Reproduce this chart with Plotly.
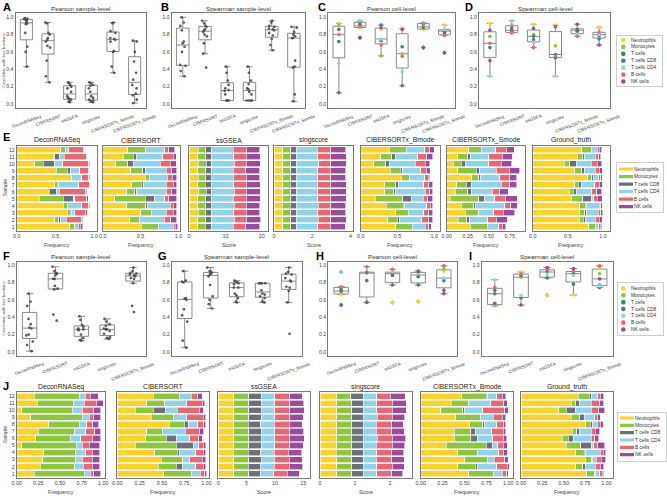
import plotly.graph_objects as go

W, H = 667, 496
FONT = "Liberation Sans, Arial, sans-serif"
FRAME = "#7a7a7a"
BOX_LINE = "#8a8a8a"

# ---------------- categories ----------------
METHODS6 = ["DeconRNASeq", "CIBERSORT", "ssGSEA", "singscore", "CIBERSORTx_Bmode", "CIBERSORTx_Smode"]
METHODS5 = METHODS6[:5]
CELLS7 = ["Neutrophils", "Monocytes", "T cells", "T cells CD8", "T cells CD4", "B cells", "NK cells"]
CELLS6 = ["Neutrophils", "Monocytes", "T cells CD8", "T cells CD4", "B cells", "NK cells"]
SAMPLES = list(range(1, 13))
SAMPLE_LABELS = [str(s) for s in SAMPLES]
Y_TICKS = [0.0, 0.2, 0.4, 0.6, 0.8, 1.0]
CELL_COLORS = {
    "Neutrophils": "#FDD22A", "Monocytes": "#8DC63F", "T cells": "#2E8B74",
    "T cells CD8": "#6B7079", "T cells CD4": "#8FD3EF", "B cells": "#EB6672", "NK cells": "#9B4B9E",
}

# ---------------- A/B: sample-level correlations (dataset 1) ----------------
pearson_sample_A = [
    [0.99, 0.98, 0.98, 0.97, 0.96, 0.94, 0.93, 0.92, 0.82, 0.66, 0.60, 0.43],
    [0.94, 0.93, 0.82, 0.80, 0.76, 0.74, 0.72, 0.67, 0.65, 0.50, 0.32, 0.25],
    [0.25, 0.24, 0.22, 0.20, 0.18, 0.14, 0.09, 0.07, 0.06, 0.05, 0.03, 0.02],
    [0.25, 0.24, 0.22, 0.21, 0.18, 0.14, 0.09, 0.07, 0.05, 0.04, 0.03, 0.02],
    [0.94, 0.93, 0.84, 0.82, 0.76, 0.75, 0.74, 0.72, 0.61, 0.60, 0.43, 0.36],
    [0.73, 0.72, 0.60, 0.49, 0.36, 0.28, 0.22, 0.18, 0.12, 0.10, 0.05, 0.01],
]
spearman_sample_B = [
    [1.00, 0.94, 0.90, 0.85, 0.72, 0.70, 0.66, 0.60, 0.45, 0.44, 0.38, 0.32],
    [0.96, 0.93, 0.90, 0.89, 0.86, 0.85, 0.83, 0.80, 0.78, 0.70, 0.58, 0.42],
    [0.43, 0.36, 0.27, 0.22, 0.18, 0.16, 0.15, 0.11, 0.04, 0.04, 0.04, 0.04],
    [0.43, 0.36, 0.27, 0.23, 0.18, 0.17, 0.14, 0.11, 0.04, 0.04, 0.04, 0.04],
    [0.96, 0.94, 0.90, 0.89, 0.87, 0.86, 0.85, 0.82, 0.79, 0.75, 0.68, 0.62],
    [0.89, 0.88, 0.83, 0.80, 0.78, 0.76, 0.76, 0.50, 0.43, 0.42, 0.11, 0.03],
]
# ---------------- C/D: cell-level correlations (order of CELLS7) ----------------
pearson_cell_C = [
    [0.93, 0.91, 0.72, 0.86, 0.47, 0.80, 0.13],
    [0.88, 0.90, 0.95, 0.92, 0.96, 0.89, 0.765],
    [0.86, 0.555, 0.91, 0.73, 0.75, 0.68, 0.88],
    [0.87, 0.58, 0.66, 0.21, 0.37, 0.55, 0.86],
    [0.86, 0.89, 0.93, 0.88, 0.94, 0.92, 0.65],
    [0.91, 0.85, 0.82, 0.84, 0.86, 0.79, 0.59],
]
spearman_cell_D = [
    [0.93, 0.78, 0.65, 0.50, 0.32, 0.70, 0.85],
    [0.82, 0.91, 0.85, 0.84, 0.96, 0.82, 0.88],
    [0.92, 0.80, 0.78, 0.74, 0.71, 0.65, 0.87],
    [0.91, 0.67, 0.57, 0.53, 0.32, 0.55, 0.89],
    [0.87, 0.85, 0.84, 0.86, 0.80, 0.78, 0.92],
    [0.885, 0.815, 0.75, 0.79, 0.80, 0.83, 0.68],
]
# ---------------- F/G: sample-level correlations (dataset 2) ----------------
pearson_sample_F = [
    [0.67, 0.58, 0.53, 0.38, 0.32, 0.28, 0.27, 0.20, 0.19, 0.12, 0.08, 0.01],
    [0.98, 0.93, 0.91, 0.90, 0.88, 0.84, 0.84, 0.76, 0.73, 0.72, 0.43, 0.36],
    [0.41, 0.37, 0.31, 0.29, 0.27, 0.26, 0.26, 0.25, 0.20, 0.16, 0.14, 0.13],
    [0.38, 0.35, 0.32, 0.30, 0.27, 0.26, 0.26, 0.24, 0.21, 0.17, 0.16, 0.15],
    [0.97, 0.93, 0.91, 0.90, 0.89, 0.88, 0.87, 0.85, 0.84, 0.79, 0.53, 0.46],
]
spearman_sample_G = [
    [0.93, 0.82, 0.81, 0.80, 0.62, 0.61, 0.60, 0.49, 0.42, 0.35, 0.13, 0.05],
    [0.97, 0.93, 0.92, 0.91, 0.90, 0.89, 0.87, 0.77, 0.64, 0.60, 0.55, 0.50],
    [0.82, 0.81, 0.80, 0.79, 0.78, 0.74, 0.74, 0.67, 0.65, 0.62, 0.58, 0.57],
    [0.79, 0.79, 0.79, 0.79, 0.79, 0.71, 0.67, 0.66, 0.64, 0.62, 0.58, 0.57],
    [0.97, 0.92, 0.90, 0.89, 0.85, 0.82, 0.81, 0.75, 0.74, 0.70, 0.57, 0.21],
]
# ---------------- H/I: cell-level correlations (dataset 2) ----------------
pearson_cell_H = [
    [0.66, 0.69, 0.72, 0.70, 0.92, 0.75, 0.54],
    [0.91, 0.92, 0.82, 0.91, 0.57, 0.98, 0.57],
    [0.57, 0.91, 0.90, 0.77, 0.92, 0.95, 0.88],
    [0.58, 0.885, 0.865, 0.77, 0.90, 0.92, 0.93],
    [0.93, 0.95, 0.82, 0.71, 0.85, 0.99, 0.67],
]
spearman_cell_I = [
    [0.53, 0.54, 0.71, 0.67, 0.83, 0.74, 0.56],
    [0.92, 0.86, 0.88, 0.62, 0.65, 0.90, 0.54],
    [0.655, 0.92, 0.85, 0.93, 0.89, 0.95, 0.97],
    [0.655, 0.91, 0.90, 0.78, 0.88, 0.93, 0.96],
    [0.97, 0.90, 0.77, 0.74, 0.76, 0.99, 0.84],
]

# ---------------- E: estimated fractions, samples 1..12 (order of CELLS6) ----------------
E_deconrnaseq = [
    [0.68, 0.06, 0.01, 0.04, 0.03, 0.03], [0.49, 0.05, 0.03, 0.07, 0.20, 0.01],
    [0.66, 0.03, 0.01, 0.05, 0.14, 0.02], [0.60, 0.05, 0.00, 0.19, 0.09, 0.01],
    [0.29, 0.31, 0.13, 0.02, 0.15, 0.02], [0.42, 0.00, 0.09, 0.04, 0.34, 0.01],
    [0.49, 0.03, 0.02, 0.26, 0.14, 0.01], [0.71, 0.00, 0.00, 0.13, 0.09, 0.01],
    [0.51, 0.14, 0.04, 0.12, 0.11, 0.01], [0.23, 0.11, 0.15, 0.10, 0.34, 0.01],
    [0.47, 0.02, 0.06, 0.06, 0.29, 0.01], [0.57, 0.06, 0.00, 0.04, 0.19, 0.01],
]
E_cibersort = [
    [0.51, 0.23, 0.00, 0.19, 0.03, 0.03], [0.36, 0.13, 0.00, 0.32, 0.09, 0.08],
    [0.50, 0.15, 0.00, 0.19, 0.09, 0.05], [0.32, 0.25, 0.02, 0.30, 0.04, 0.05],
    [0.16, 0.40, 0.13, 0.13, 0.05, 0.11], [0.32, 0.10, 0.03, 0.39, 0.07, 0.07],
    [0.38, 0.13, 0.03, 0.30, 0.09, 0.05], [0.56, 0.06, 0.00, 0.23, 0.07, 0.06],
    [0.37, 0.16, 0.04, 0.27, 0.07, 0.07], [0.17, 0.16, 0.08, 0.35, 0.13, 0.08],
    [0.27, 0.13, 0.04, 0.35, 0.14, 0.04], [0.33, 0.24, 0.00, 0.25, 0.05, 0.08],
]
E_ssgsea = [
    [2.4, 2.1, 1.6, 6.0, 3.5, 3.8], [2.4, 2.2, 1.6, 6.2, 3.4, 3.9],
    [2.5, 2.1, 1.6, 6.1, 3.4, 3.7], [2.4, 2.2, 1.5, 6.3, 3.3, 3.8],
    [2.4, 2.2, 1.6, 6.0, 3.5, 3.9], [2.5, 2.2, 1.6, 6.1, 3.4, 3.8],
    [2.4, 2.1, 1.6, 6.2, 3.5, 3.8], [2.5, 2.1, 1.5, 6.1, 3.5, 3.7],
    [2.4, 2.2, 1.6, 6.0, 3.4, 3.9], [2.5, 2.2, 1.6, 6.2, 3.3, 3.8],
    [2.4, 2.2, 1.6, 6.1, 3.5, 3.8], [2.5, 2.1, 1.6, 6.0, 3.5, 3.7],
]
E_singscore = [
    [0.46, 0.42, 0.30, 1.10, 0.66, 0.78], [0.45, 0.43, 0.29, 1.14, 0.66, 0.80],
    [0.46, 0.41, 0.30, 1.12, 0.67, 0.79], [0.44, 0.42, 0.30, 1.16, 0.64, 0.80],
    [0.45, 0.42, 0.31, 1.11, 0.69, 0.81], [0.46, 0.42, 0.30, 1.12, 0.67, 0.80],
    [0.45, 0.41, 0.30, 1.14, 0.68, 0.79], [0.46, 0.41, 0.29, 1.13, 0.68, 0.78],
    [0.45, 0.42, 0.30, 1.11, 0.67, 0.81], [0.46, 0.42, 0.31, 1.14, 0.64, 0.80],
    [0.45, 0.42, 0.30, 1.12, 0.68, 0.80], [0.46, 0.41, 0.30, 1.10, 0.69, 0.79],
]
E_bmode = [
    [0.48, 0.22, 0.00, 0.18, 0.05, 0.03], [0.37, 0.13, 0.03, 0.30, 0.10, 0.05],
    [0.48, 0.17, 0.00, 0.21, 0.07, 0.05], [0.35, 0.23, 0.01, 0.31, 0.05, 0.03],
    [0.20, 0.37, 0.12, 0.16, 0.06, 0.07], [0.33, 0.12, 0.03, 0.40, 0.06, 0.04],
    [0.33, 0.15, 0.03, 0.35, 0.07, 0.05], [0.55, 0.12, 0.00, 0.20, 0.05, 0.02],
    [0.40, 0.14, 0.03, 0.25, 0.07, 0.06], [0.18, 0.16, 0.05, 0.35, 0.14, 0.06],
    [0.27, 0.15, 0.05, 0.31, 0.12, 0.08], [0.39, 0.23, 0.00, 0.25, 0.07, 0.06],
]
E_smode = [
    [0.28, 0.20, 0.00, 0.14, 0.04, 0.04], [0.14, 0.10, 0.03, 0.22, 0.10, 0.13],
    [0.22, 0.16, 0.00, 0.18, 0.11, 0.14], [0.17, 0.15, 0.02, 0.35, 0.07, 0.08],
    [0.04, 0.34, 0.07, 0.12, 0.13, 0.14], [0.10, 0.15, 0.04, 0.25, 0.09, 0.10],
    [0.12, 0.11, 0.06, 0.36, 0.10, 0.08], [0.30, 0.08, 0.02, 0.23, 0.12, 0.08],
    [0.13, 0.22, 0.04, 0.20, 0.15, 0.13], [0.08, 0.09, 0.05, 0.28, 0.15, 0.12],
    [0.13, 0.12, 0.03, 0.22, 0.16, 0.12], [0.26, 0.15, 0.00, 0.17, 0.13, 0.09],
]
E_ground_truth = [
    [0.80, 0.09, 0.00, 0.05, 0.02, 0.02], [0.66, 0.06, 0.03, 0.14, 0.06, 0.04],
    [0.67, 0.07, 0.03, 0.16, 0.04, 0.03], [0.67, 0.08, 0.02, 0.18, 0.02, 0.02],
    [0.55, 0.16, 0.13, 0.03, 0.05, 0.07], [0.52, 0.06, 0.05, 0.21, 0.07, 0.07],
    [0.60, 0.05, 0.05, 0.18, 0.07, 0.04], [0.78, 0.06, 0.03, 0.07, 0.03, 0.02],
    [0.60, 0.10, 0.04, 0.15, 0.06, 0.04], [0.45, 0.08, 0.10, 0.20, 0.09, 0.06],
    [0.64, 0.07, 0.02, 0.16, 0.05, 0.03], [0.70, 0.13, 0.01, 0.08, 0.03, 0.03],
]
# ---------------- J: estimated fractions, samples 1..12 ----------------
J_deconrnaseq = [
    [0.20, 0.58, 0.00, 0.07, 0.04, 0.08], [0.27, 0.40, 0.00, 0.10, 0.10, 0.09],
    [0.30, 0.38, 0.00, 0.08, 0.11, 0.09], [0.31, 0.37, 0.00, 0.12, 0.07, 0.09],
    [0.06, 0.63, 0.00, 0.07, 0.08, 0.12], [0.22, 0.40, 0.00, 0.12, 0.13, 0.10],
    [0.25, 0.42, 0.00, 0.13, 0.10, 0.07], [0.37, 0.35, 0.00, 0.09, 0.07, 0.07],
    [0.16, 0.60, 0.00, 0.08, 0.05, 0.08], [0.06, 0.58, 0.00, 0.12, 0.13, 0.08],
    [0.24, 0.42, 0.00, 0.12, 0.14, 0.08], [0.20, 0.52, 0.00, 0.07, 0.06, 0.09],
]
J_cibersort = [
    [0.52, 0.31, 0.00, 0.10, 0.05, 0.02], [0.46, 0.20, 0.07, 0.15, 0.08, 0.03],
    [0.49, 0.24, 0.00, 0.08, 0.14, 0.04], [0.42, 0.25, 0.03, 0.18, 0.08, 0.03],
    [0.20, 0.46, 0.19, 0.06, 0.05, 0.03], [0.32, 0.23, 0.11, 0.15, 0.10, 0.04],
    [0.33, 0.18, 0.00, 0.25, 0.16, 0.05], [0.58, 0.17, 0.05, 0.10, 0.07, 0.02],
    [0.38, 0.25, 0.00, 0.15, 0.18, 0.03], [0.20, 0.20, 0.14, 0.13, 0.25, 0.04],
    [0.33, 0.20, 0.00, 0.25, 0.17, 0.03], [0.40, 0.30, 0.00, 0.13, 0.07, 0.05],
]
J_ssgsea = [
    [2.7, 2.7, 2.1, 2.3, 2.4, 2.1], [2.7, 2.6, 2.2, 2.4, 2.6, 2.4],
    [2.7, 2.7, 2.2, 2.3, 2.6, 2.3], [2.6, 2.7, 2.2, 2.4, 2.5, 2.3],
    [2.7, 2.7, 2.2, 2.4, 2.6, 2.4], [2.7, 2.7, 2.2, 2.4, 2.6, 2.6],
    [2.7, 2.7, 2.2, 2.4, 2.6, 2.5], [2.7, 2.6, 2.2, 2.4, 2.6, 2.3],
    [2.7, 2.7, 2.2, 2.4, 2.6, 2.4], [2.7, 2.7, 2.2, 2.4, 2.6, 2.6],
    [2.7, 2.7, 2.2, 2.4, 2.6, 2.5], [2.7, 2.7, 2.2, 2.4, 2.6, 2.2],
]
J_singscore = [
    [0.48, 0.43, 0.33, 0.38, 0.43, 0.31], [0.48, 0.42, 0.33, 0.39, 0.44, 0.34],
    [0.48, 0.43, 0.32, 0.38, 0.44, 0.36], [0.47, 0.43, 0.33, 0.39, 0.43, 0.34],
    [0.48, 0.42, 0.33, 0.38, 0.45, 0.36], [0.48, 0.43, 0.33, 0.39, 0.44, 0.38],
    [0.48, 0.42, 0.33, 0.38, 0.44, 0.35], [0.48, 0.43, 0.32, 0.38, 0.44, 0.33],
    [0.48, 0.43, 0.33, 0.39, 0.44, 0.35], [0.48, 0.43, 0.33, 0.38, 0.44, 0.40],
    [0.48, 0.42, 0.33, 0.39, 0.44, 0.40], [0.48, 0.40, 0.36, 0.38, 0.38, 0.43],
]
J_bmode = [
    [0.55, 0.28, 0.00, 0.10, 0.05, 0.02], [0.42, 0.20, 0.03, 0.22, 0.12, 0.02],
    [0.50, 0.26, 0.00, 0.08, 0.12, 0.04], [0.42, 0.23, 0.00, 0.24, 0.06, 0.04],
    [0.29, 0.46, 0.07, 0.06, 0.06, 0.05], [0.38, 0.19, 0.08, 0.17, 0.12, 0.04],
    [0.38, 0.19, 0.05, 0.19, 0.13, 0.03], [0.56, 0.15, 0.02, 0.14, 0.08, 0.02],
    [0.40, 0.28, 0.00, 0.15, 0.10, 0.04], [0.23, 0.25, 0.02, 0.21, 0.25, 0.04],
    [0.35, 0.20, 0.00, 0.25, 0.15, 0.04], [0.47, 0.28, 0.01, 0.11, 0.06, 0.04],
]
J_ground_truth = [
    [0.77, 0.09, 0.01, 0.05, 0.03, 0.02], [0.64, 0.08, 0.03, 0.12, 0.06, 0.04],
    [0.75, 0.08, 0.01, 0.04, 0.06, 0.05], [0.64, 0.10, 0.01, 0.18, 0.03, 0.03],
    [0.53, 0.17, 0.12, 0.03, 0.05, 0.08], [0.48, 0.07, 0.07, 0.20, 0.04, 0.05],
    [0.60, 0.05, 0.04, 0.13, 0.05, 0.05], [0.76, 0.05, 0.03, 0.05, 0.04, 0.03],
    [0.59, 0.10, 0.05, 0.12, 0.04, 0.03], [0.44, 0.09, 0.11, 0.18, 0.09, 0.07],
    [0.59, 0.05, 0.04, 0.14, 0.10, 0.05], [0.67, 0.13, 0.02, 0.08, 0.03, 0.04],
]

# ================= drawing =================
fig = go.Figure()
annotations = []
_n = [0]


def px_x(x):
    return x / W


def px_y(y):
    return 1 - y / H


def add_axes(x0, x1, y0, y1, xa, ya, frame=FRAME):
    _n[0] += 1
    s = "" if _n[0] == 1 else str(_n[0])
    base = dict(showline=True, mirror=True, linecolor=frame, linewidth=1, showgrid=False,
                zeroline=False, ticks="", automargin=False, fixedrange=True,
                tickfont=dict(size=5.4, color="#444", family=FONT))
    xd = dict(base, domain=[px_x(x0), px_x(x1)], anchor="y" + s)
    xd.update(xa)
    yd = dict(base, domain=[px_y(y1), px_y(y0)], anchor="x" + s)
    yd.update(ya)
    fig.update_layout(**{"xaxis" + s: xd, "yaxis" + s: yd})
    return "x" + s, "y" + s


def text(t, x, y, size, color="#333", bold=False, angle=0, xanchor="center", yanchor="middle",
         xref="paper", yref="paper", pad=1):
    annotations.append(dict(text="<b>%s</b>" % t if bold else t, x=x, y=y, xref=xref, yref=yref,
                            showarrow=False, textangle=angle, xanchor=xanchor, yanchor=yanchor,
                            borderpad=pad, font=dict(size=size, color=color, family=FONT)))


def box_panel(xpx, ypx, yrange, methods, values, title, letter, letter_x, cell_level, ytitle):
    x0, x1 = xpx
    y0, y1 = ypx
    xr, yr = add_axes(
        x0, x1, y0, y1,
        dict(type="category", categoryorder="array", categoryarray=methods,
             range=[-0.5, len(methods) - 0.5], showticklabels=False),
        dict(range=yrange, tickvals=Y_TICKS, ticktext=["%.1f" % v for v in Y_TICKS],
             tickfont=dict(size=5.2, color="#444", family=FONT)))
    xs = [m for m, vals in zip(methods, values) for _ in vals]
    ys = [v for vals in values for v in vals]
    if not cell_level:
        fig.add_trace(go.Box(x=xs, y=ys, xaxis=xr, yaxis=yr, boxpoints="all", jitter=0.55, pointpos=0,
                             fillcolor="rgba(0,0,0,0)", line=dict(color=BOX_LINE, width=1),
                             marker=dict(color="#4a4a4a", size=2.7, opacity=0.9),
                             whiskerwidth=0.5, showlegend=False, hoverinfo="skip"))
    else:
        fig.add_trace(go.Box(x=xs, y=ys, xaxis=xr, yaxis=yr, boxpoints="outliers", pointpos=0,
                             fillcolor="rgba(0,0,0,0)", line=dict(color=BOX_LINE, width=1),
                             marker=dict(color="#777", size=3.5, symbol="diamond"),
                             whiskerwidth=0.5, showlegend=False, hoverinfo="skip"))
        for j, cell in enumerate(CELLS7):
            fig.add_trace(go.Scatter(x=methods, y=[vals[j] for vals in values], mode="markers",
                                     marker=dict(color=CELL_COLORS[cell], size=3.6),
                                     xaxis=xr, yaxis=yr, showlegend=False, hoverinfo="skip"))
    for m in methods:
        text(m, m, px_y(y1 + 2.5), 4.5, color="#444", angle=-20, xanchor="center", yanchor="top", xref=xr)
    text(title, px_x((x0 + x1) / 2), px_y(y0 - 5), 6.2, color="#333")
    text(letter, px_x(letter_x), px_y(y0 - 6), 11, color="#000", bold=True, xanchor="left")
    if ytitle:
        text(ytitle, px_x(4), px_y((y0 + y1) / 2), 4.2, color="#555", angle=-90)


def bar_panel(xpx, ypx, rows, xrange, tickvals, ticktext, xtitle, title, first):
    x0, x1 = xpx
    y0, y1 = ypx
    xr, yr = add_axes(
        x0, x1, y0, y1,
        dict(range=xrange, tickvals=tickvals, ticktext=ticktext),
        dict(range=[0.4, 12.6], tickvals=SAMPLES, ticktext=SAMPLE_LABELS, showticklabels=first,
             tickfont=dict(size=5.2, color="#444", family=FONT)))
    for j, cell in enumerate(CELLS6):
        fig.add_trace(go.Bar(y=SAMPLES, x=[r[j] for r in rows], orientation="h", xaxis=xr, yaxis=yr,
                             marker=dict(color=CELL_COLORS[cell], line=dict(color="white", width=0.6)),
                             showlegend=False, hoverinfo="skip"))
    text(title, px_x((x0 + x1) / 2), px_y(y0 - 5.5), 6.8, color="#222")
    text(xtitle, px_x((x0 + x1) / 2), px_y(min(y1 + 13.5, 491.5)), 5.4, color="#444")


def legend_panel(xpx, ypx, item_first, item_last, marker_x, text_x, cells, bars):
    x0, x1 = xpx
    y0, y1 = ypx
    n = len(cells)
    step = (item_last - item_first) / (n - 1)
    lo = -(y1 - item_last) / step
    hi = (n - 1) + (item_first - y0) / step
    xr, yr = add_axes(
        x0, x1, y0, y1,
        dict(range=[x0, x1], showticklabels=False),
        dict(type="category", categoryorder="array", categoryarray=cells[::-1],
             range=[lo, hi], showticklabels=False), frame="#cfcfcf")
    cols = [CELL_COLORS[c] for c in cells]
    if bars:
        marker = dict(symbol="line-ew", size=10, line=dict(color=cols, width=3.2))
    else:
        marker = dict(symbol="circle", size=4.6, color=cols)
    fig.add_trace(go.Scatter(x=[marker_x] * n, y=cells, mode="markers", marker=marker,
                             xaxis=xr, yaxis=yr, showlegend=False, hoverinfo="skip"))
    for i, c in enumerate(cells):
        text(c, px_x(text_x), px_y(item_first + i * step), 4.9, color="#333",
             xanchor="left", yanchor="middle", pad=0)


# ---- row 1: A-D ----
R1 = (13.3, 108.3)
R1_RANGE = [-0.05, 1.046]
box_panel((15.5, 145.5), R1, R1_RANGE, METHODS6, pearson_sample_A, "Pearson sample-level", "A", 1, False,
          "Correlation with true fractions")
box_panel((171.7, 305), R1, R1_RANGE, METHODS6, spearman_sample_B, "Spearman sample-level", "B", 159, False, None)
box_panel((328.3, 455), R1, R1_RANGE, METHODS6, pearson_cell_C, "Pearson cell-level", "C", 316, True, None)
box_panel((479, 610), R1, R1_RANGE, METHODS6, spearman_cell_D, "Spearman cell-level", "D", 463, True, None)
legend_panel((616.7, 661.7), (36, 86), 40, 81.5, 623.3, 629.5, CELLS7, False)

# ---- row 2: E ----
RE = (145.7, 231)
F3 = (["0.0", "0.5", "1.0"], [0, 0.5, 1.0])
bar_panel((16.7, 96.7), RE, E_deconrnaseq, [0, 1.03], F3[1], F3[0], "Frequency", "DeconRNASeq", True)
bar_panel((102.7, 180), RE, E_cibersort, [0, 1.02], F3[1], F3[0], "Frequency", "CIBERSORT", False)
bar_panel((189, 268.3), RE, E_ssgsea, [0, 21.8], [0, 10, 20], ["0", "10", "20"], "Score", "ssGSEA", False)
bar_panel((274, 353.3), RE, E_singscore, [0, 4.15], [0, 2, 4], ["0", "2", "4"], "Score", "singscore", False)
bar_panel((360.7, 440), RE, E_bmode, [0, 1.08], F3[1], F3[0], "Frequency", "CIBERSORTx_Bmode", False)
bar_panel((446.7, 525), RE, E_smode, [0, 0.93], [0, 0.25, 0.5, 0.75], ["0.00", "0.25", "0.50", "0.75"],
          "Frequency", "CIBERSORTx_Smode", False)
bar_panel((532.7, 610), RE, E_ground_truth, [0, 1.1], F3[1], F3[0], "Frequency", "Ground_truth", False)
legend_panel((616.7, 663.3), (163.3, 212.3), 169, 206.7, 626, 632.5, CELLS6, True)
text("E", px_x(1), px_y(137), 11, color="#000", bold=True, xanchor="left")
text("Sample", px_x(4.5), px_y(188), 5.2, color="#444", angle=-90)

# ---- row 3: F-I ----
R3 = (261.7, 356)
R3_RANGE = [-0.046, 1.038]
box_panel((16.7, 146), R3, R3_RANGE, METHODS5, pearson_sample_F, "Pearson sample-level", "F", 1, False,
          "Correlation with true fractions")
box_panel((171.7, 301.7), R3, R3_RANGE, METHODS5, spearman_sample_G, "Spearman sample-level", "G", 156, False, None)
box_panel((328.3, 456.7), R3, R3_RANGE, METHODS5, pearson_cell_H, "Pearson cell-level", "H", 314, True, None)
box_panel((481.7, 612.7), R3, R3_RANGE, METHODS5, spearman_cell_I, "Spearman cell-level", "I", 467, True, None)
legend_panel((618.3, 663.3), (283, 335), 288.5, 329.5, 623.3, 629.5, CELLS7, False)

# ---- row 4: J ----
RJ = (392, 478)
F5 = (["0.00", "0.25", "0.50", "0.75", "1.00"], [0, 0.25, 0.5, 0.75, 1.0])
bar_panel((16.7, 105), RJ, J_deconrnaseq, [0, 1.02], F5[1], F5[0], "Frequency", "DeconRNASeq", True)
bar_panel((117.3, 209.3), RJ, J_cibersort, [0, 1.03], F5[1], F5[0], "Frequency", "CIBERSORT", False)
bar_panel((218.3, 310), RJ, J_ssgsea, [0, 16.2], [0, 5, 10, 15], ["0", "5", "10", "15"], "Score", "ssGSEA", False)
bar_panel((320, 411.7), RJ, J_singscore, [0, 2.62], [0, 1, 2], ["0", "1", "2"], "Score", "singscore", False)
bar_panel((420.7, 512.7), RJ, J_bmode, [0, 1.05], F5[1], F5[0], "Frequency", "CIBERSORTx_Bmode", False)
bar_panel((521, 613.3), RJ, J_ground_truth, [0, 1.08], F5[1], F5[0], "Frequency", "Ground_truth", False)
legend_panel((618.3, 666), (413, 461), 418, 454.7, 627, 633.5, CELLS6, True)
text("J", px_x(1), px_y(386), 11, color="#000", bold=True, xanchor="left")
text("Sample", px_x(4.5), px_y(435), 5.2, color="#444", angle=-90)

fig.update_layout(
    width=W, height=H, margin=dict(l=0, r=0, t=0, b=0),
    paper_bgcolor="white", plot_bgcolor="white", template="none",
    barmode="stack", bargap=0.12, boxgap=0.2, showlegend=False,
    font=dict(family=FONT, size=6, color="#333"),
    annotations=annotations,
)
fig.write_html("out.html", config={"displayModeBar": False, "staticPlot": True},
               post_script="document.body.style.margin='0';document.body.style.padding='0';")
